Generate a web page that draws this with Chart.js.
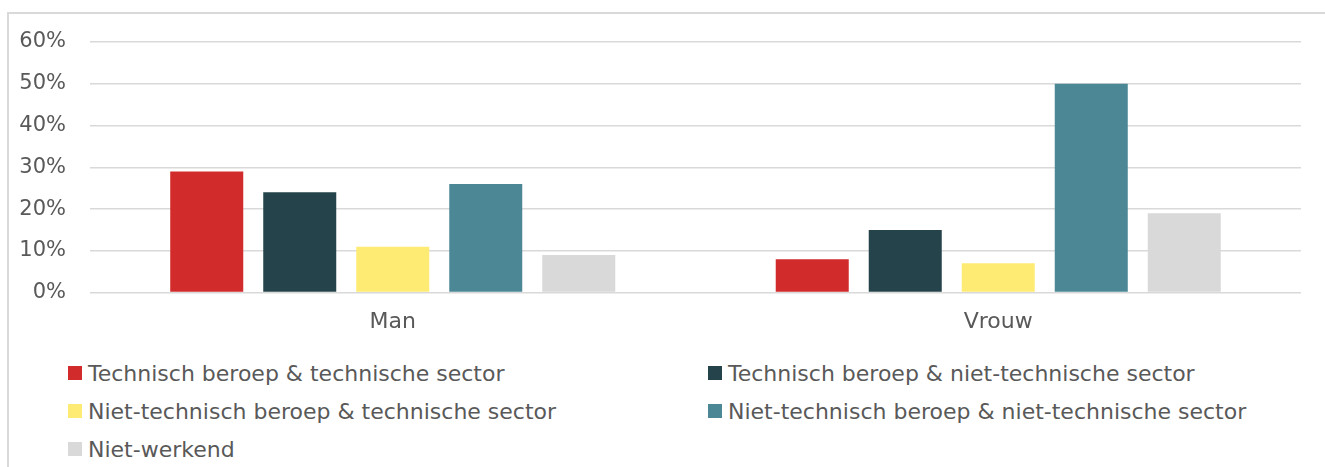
<!DOCTYPE html>
<html>
<head>
	<meta charset="UTF-8">
	<title>beroep en sector</title>
	<script src="https://cdn.jsdelivr.net/npm/chart.js"></script>
	<style>
	html, body{margin:0; background:#fff; font-family:'DejaVu Sans', sans-serif; overflow:hidden;}
	#frame{position:absolute; left:7px; top:12px; right:0; bottom:0; border-style:solid; border-color:#d9d9d9; border-width:2px 0 0 2px;}
	#wrap{position:absolute; left:0; top:0; width:1325px; height:352px;}
	#legend{position:absolute; left:68px; top:354px; width:1250px; display:grid; grid-template-columns:640px 600px;}
	.item{height:38px; display:flex; align-items:center; font-size:22px; color:#595959; white-space:nowrap;}
	.box{width:14px; height:14px; margin-right:6px; flex:none;}
	</style>
</head>
<body>
	<div id="frame"></div>
	<div id="wrap"><canvas id="myChart"></canvas></div>
	<div id="legend"></div>
	<script>
	// data
	var categories = ['Man', 'Vrouw'];
	var seriesNames = [
		'Technisch beroep & technische sector',
		'Technisch beroep & niet-technische sector',
		'Niet-technisch beroep & technische sector',
		'Niet-technisch beroep & niet-technische sector',
		'Niet-werkend'
	];
	var techTech = [29, 8];
	var techNiet = [24, 15];
	var nietTech = [11, 7];
	var nietNiet = [26, 50];
	var nietWerkend = [9, 19];
	var yTicks = [0, 10, 20, 30, 40, 50, 60];

	var colors = ['#d22b2b', '#25434a', '#fdeb74', '#4b8794', '#d9d9d9'];
	var values = [techTech, techNiet, nietTech, nietNiet, nietWerkend];

	var datasets = [];
	for (let i = 0; i < seriesNames.length; i++) {
		datasets.push({
			label: seriesNames[i],
			data: values[i],
			backgroundColor: colors[i],
			borderWidth: 0,
			categoryPercentage: 0.768,
			barPercentage: 0.785
		});
	}

	Chart.defaults.font.family = "'DejaVu Sans', sans-serif";
	Chart.defaults.color = '#595959';

	const ctx = document.getElementById('myChart');
	const chart = new Chart(ctx, {
		type: 'bar',
		data: { labels: categories, datasets: datasets },
		options: {
			responsive: true,
			maintainAspectRatio: false,
			animation: false,
			layout: { padding: { top: 42, right: 24, bottom: 9, left: 0 } },
			plugins: { legend: { display: false }, tooltip: { enabled: false } },
			scales: {
				x: {
					grid: { display: false },
					border: { display: false },
					ticks: { padding: 8, font: { size: 22 } }
				},
				y: {
					min: 0, max: 60,
					afterBuildTicks: function(scale){ scale.ticks = yTicks.map(v => ({ value: v })); },
					afterFit: function(scale){ scale.width = 90; },
					grid: { color: '#d9d9d9', lineWidth: 1.5, drawTicks: false },
					border: { display: false },
					ticks: { padding: 24, font: { size: 21 }, callback: v => v + '%' }
				}
			}
		}
	});

	// html legend (two columns)
	var items = chart.options.plugins.legend.labels.generateLabels(chart);
	var leg = document.getElementById('legend');
	items.forEach(function(it){
		var d = document.createElement('div');
		d.className = 'item';
		d.innerHTML = '<span class="box" style="background:' + it.fillStyle + '"></span>' + it.text;
		leg.appendChild(d);
	});
	</script>
</body>
</html>
